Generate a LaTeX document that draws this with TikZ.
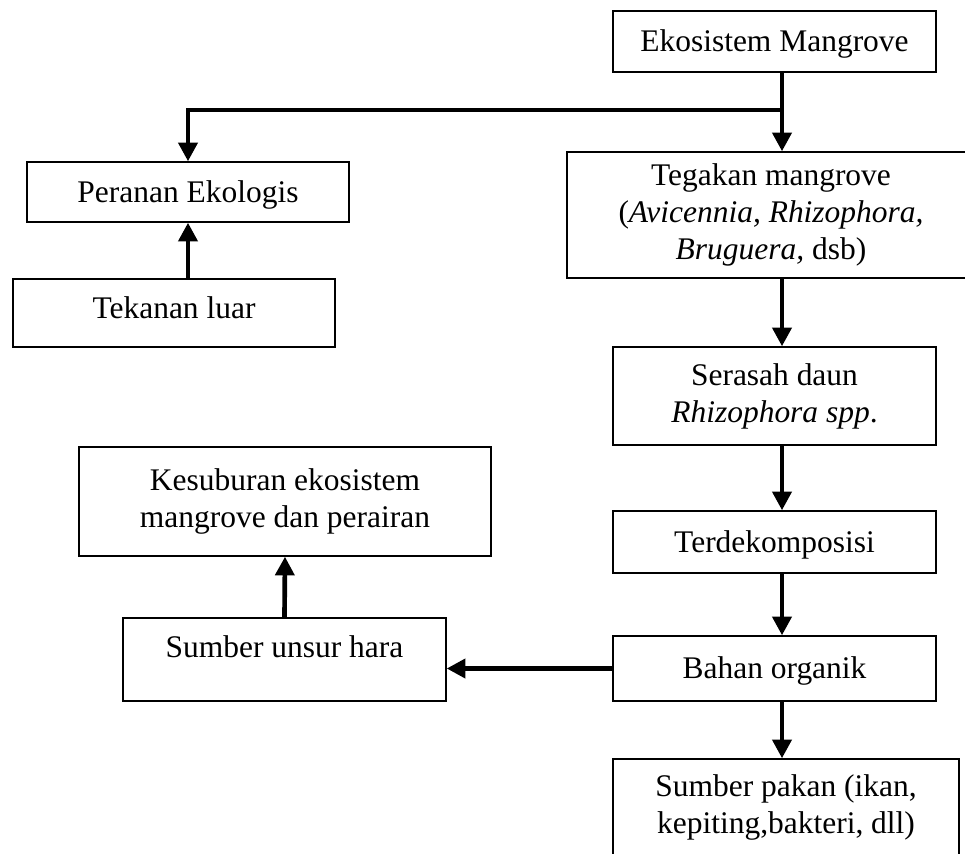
\documentclass[tikz,border=0pt]{standalone}
\usepackage{fontspec}
\setmainfont{Liberation Serif}
\usetikzlibrary{arrows.meta}
\tikzset{
	box/.style={draw, line width=1pt, inner sep=0pt, align=center,
		font=\fontsize{23.6}{27.75}\selectfont},
	single/.style={text height=15.6pt, text depth=0pt},
	flow/.style={line width=3.5pt, -{Triangle[width=14pt,length=14pt]}},
}
\begin{document}
\begin{tikzpicture}[x=0.75pt, y=-0.75pt]
		\useasboundingbox (0,0) rectangle (965,854);
		\node[box, single, minimum width=242.25pt, minimum height=45.75pt] (ekosistem) at (774.5,41.5) {Ekosistem Mangrove};
		\node[box, minimum width=306pt, minimum height=94.5pt] (tegakan) at (771,215) {Tegakan mangrove\\(\textit{Avicennia, Rhizophora,}\\\textit{Bruguera,} dsb)};
		\node[box, single, minimum width=241.5pt, minimum height=45pt] (peranan) at (188,192) {Peranan Ekologis};
		\node[box, single, text depth=7.5pt, minimum width=241.5pt, minimum height=51pt] (tekanan) at (174,313) {Tekanan luar};
		\node[box, minimum width=242.25pt, minimum height=73.5pt] (serasah) at (774.5,396) {Serasah daun\\\textit{Rhizophora spp}.};
		\node[box, single, minimum width=242.25pt, minimum height=46.5pt] (terdekomposisi) at (774.5,542) {Terdekomposisi};
		\node[box, minimum width=309pt, minimum height=81.75pt] (kesuburan) at (285,501.5) {Kesuburan ekosistem\\mangrove dan perairan};
		\node[box, single, minimum width=242.25pt, minimum height=48.75pt] (bahan) at (774.5,668.5) {Bahan organik};
		\node[box, single, text depth=18pt, minimum width=242.25pt, minimum height=62.25pt] (unsur) at (284.5,659.5) {Sumber unsur hara};
		\node[box, minimum width=259.5pt, minimum height=72.75pt] (pakan) at (786,807.5) {Sumber pakan (ikan,\\kepiting,bakteri, dll)};
		% cabang dari ekosistem
		\coordinate (cabang) at (782,110);
		\draw[flow] (ekosistem.south -| cabang) -- (tegakan.north -| cabang);
		\draw[flow] (cabang) -| (peranan.north);
		\draw[flow] (tekanan.north -| peranan.south) -- (peranan.south);
		\draw[flow] (tegakan.south -| cabang) -- (serasah.north -| cabang);
		\draw[flow] (serasah.south -| cabang) -- (terdekomposisi.north -| cabang);
		\draw[flow] (terdekomposisi.south -| cabang) -- (bahan.north -| cabang);
		\draw[flow] (bahan.south -| cabang) -- (pakan.north -| cabang);
		\draw[flow] (bahan.west) -- (bahan.west -| unsur.east);
		\draw[flow] (unsur.north) -- (kesuburan.south);
	\end{tikzpicture}
\end{document}
